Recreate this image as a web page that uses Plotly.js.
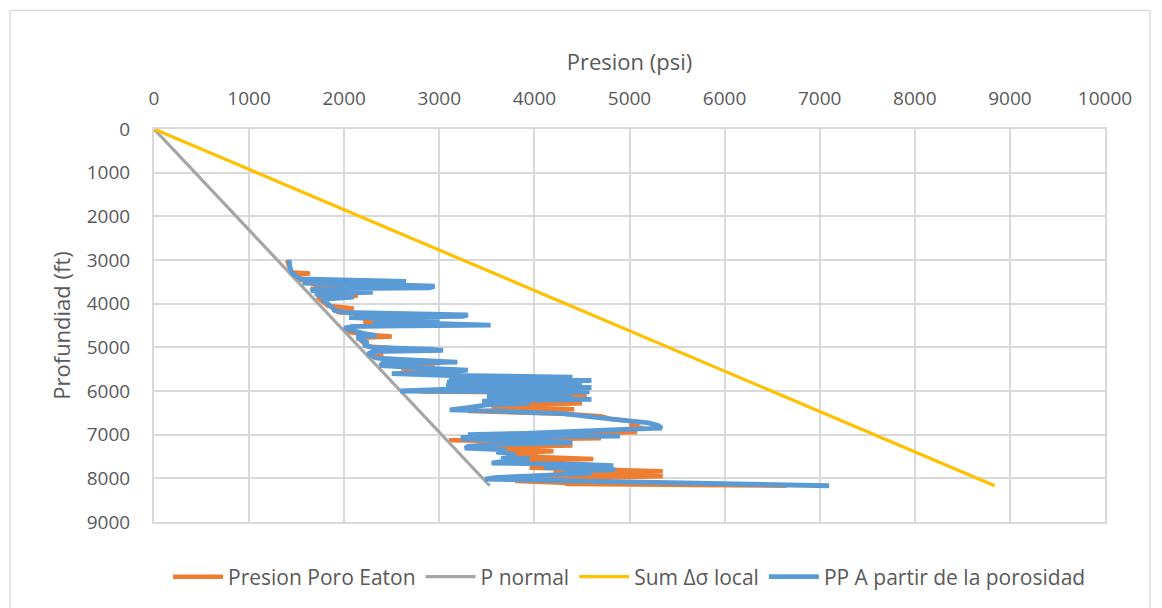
<!DOCTYPE html>
<html>
<head>
<meta charset="utf-8">
<script src="https://cdn.plot.ly/plotly-3.0.1.min.js"></script>
<style>
html,body{margin:0;padding:0;background:#fff;}
#chart{width:1162px;height:608px;}
</style>
</head>
<body>
<div id="chart"></div>
<script>
// ---- data: depth (ft) and pressure (psi) ----
const eatonDepth = [3000,3150,3280,3310,3340,3400,3450,3480,3500,3560,3620,3660,3720,3780,3820,3860,3920,3980,4050,4110,4140,4200,4250,4280,4320,4380,4420,4480,4520,4580,4650,4700,4750,4780,4850,4920,4980,5050,5080,5150,5190,5230,5300,5360,5400,5440,5480,5530,5570,5610,5660,5700,5750,5800,5850,5900,5950,6010,6040,6080,6120,6160,6200,6250,6280,6330,6380,6420,6460,6520,6580,6640,6700,6760,6800,6850,6900,6940,6980,7030,7080,7130,7170,7210,7250,7290,7340,7380,7430,7450,7500,7560,7600,7650,7700,7760,7800,7840,7880,7920,7950,8000,8060,8100,8130,8170];
const eatonPress = [1400,1420,1440,1640,1470,1500,1540,2100,1600,1700,2000,1650,1700,2100,2140,1720,1760,1790,1830,2100,1880,1950,2500,2800,2100,2700,2200,3200,2080,2000,2050,2200,2500,2200,2180,2220,2250,2700,2400,2280,2410,2300,2600,3000,2450,2950,2600,2800,3060,2900,3200,4300,3300,4500,3200,4400,3200,2800,4300,3600,4550,3800,4300,3600,4500,3800,3550,4420,3300,4300,4700,4800,5050,5100,5000,5150,4900,5080,4400,3800,4700,3100,4300,3800,4400,3400,3900,4200,3700,4030,3900,4620,3850,4300,4600,3950,4700,5350,4200,5200,5350,4400,3800,4300,4350,6650];

const normalDepth = [0, 8170];
const normalPress = [0, 3530];

const sumDepth = [0, 8170];
const sumPress = [0, 8840];

const ppDepth = [3000,3080,3160,3250,3320,3380,3430,3470,3490,3505,3530,3560,3600,3640,3660,3700,3740,3770,3800,3850,3900,3950,4000,4050,4100,4150,4200,4230,4260,4290,4320,4350,4380,4410,4450,4490,4520,4560,4620,4680,4730,4760,4800,4850,4900,4950,5000,5040,5070,5100,5150,5200,5250,5300,5340,5370,5420,5470,5520,5560,5600,5640,5680,5720,5760,5800,5840,5880,5920,5960,6000,6020,6060,6100,6140,6190,6230,6280,6320,6380,6430,6460,6520,6600,6650,6730,6790,6850,6890,6930,6970,7000,7030,7060,7100,7140,7180,7220,7270,7310,7350,7400,7450,7500,7550,7600,7650,7680,7710,7750,7800,7840,7880,7930,7980,8020,8060,8120,8170];
const ppPress = [1420,1420,1430,1440,1460,1500,1540,2200,2650,1700,1560,2400,2950,2900,1700,1650,2300,1700,1720,2100,1760,1800,1820,1850,1880,1900,2000,3000,3300,3250,2050,3000,2900,2300,3200,3540,2100,2000,2100,2200,2340,2150,2150,2200,2250,2200,2300,2900,3040,2300,2250,2300,2350,2800,3190,2400,2380,2800,3300,3100,2500,3060,4400,3100,4600,3080,4500,3070,4600,3100,2590,4580,3500,4400,3500,4600,3450,3950,3500,3300,3110,3600,4300,4620,4900,5200,5300,5340,4800,4400,3900,3300,4900,3250,3250,4000,4400,3600,3300,3270,3700,3600,3800,3650,3950,3700,3550,4500,4830,4100,4850,4300,4600,4100,3600,3480,4500,6000,7100];

const xTicks = [0,1000,2000,3000,4000,5000,6000,7000,8000,9000,10000];
const yTicks = [0,1000,2000,3000,4000,5000,6000,7000,8000,9000];

const FONT = '"Open Sans", "Noto Sans", sans-serif';
const TXT = '#595959';
const GRID = '#d9d9d9';

const traces = [
  {x: eatonPress, y: eatonDepth, name: 'Presion Poro Eaton', mode: 'lines',
   line: {color: '#ED7D31', width: 4.5}},
  {x: normalPress, y: normalDepth, name: 'P normal', mode: 'lines',
   line: {color: '#A5A5A5', width: 3.2}},
  {x: sumPress, y: sumDepth, name: 'Sum Δσ local', mode: 'lines',
   line: {color: '#FFC000', width: 3.2}},
  {x: ppPress, y: ppDepth, name: 'PP A partir de la porosidad', mode: 'lines',
   line: {color: '#5B9BD5', width: 4.8}}
];

const layout = {
  width: 1162, height: 608,
  margin: {l: 154, r: 57, t: 129, b: 85, pad: 0},
  paper_bgcolor: '#ffffff', plot_bgcolor: '#ffffff',
  font: {family: FONT, color: TXT, size: 19},
  showlegend: true,
  xaxis: {
    side: 'top', range: [0, 10000], tickvals: xTicks,
    ticktext: xTicks.map(String),
    showgrid: true, gridcolor: GRID, gridwidth: 2,
    showline: true, mirror: true, linecolor: GRID, linewidth: 2,
    zeroline: false, ticks: '', ticklabelstandoff: 14,
    tickfont: {family: FONT, size: 19, color: TXT},
    title: {text: 'Presion (psi)', font: {family: FONT, size: 22, color: TXT}, standoff: 9}
  },
  yaxis: {
    range: [9000, 0], tickvals: yTicks, ticktext: yTicks.map(String),
    showgrid: true, gridcolor: GRID, gridwidth: 2,
    showline: true, mirror: true, linecolor: GRID, linewidth: 2,
    zeroline: false, ticks: '', ticklabelstandoff: 18,
    tickfont: {family: FONT, size: 19, color: TXT},
    title: {text: 'Profundiad (ft)', font: {family: FONT, size: 22, color: TXT}, standoff: 10}
  },
  legend: {
    orientation: 'h', x: 0.5, xanchor: 'center', y: -0.137, yanchor: 'middle',
    font: {family: FONT, size: 21, color: TXT}, bgcolor: 'rgba(0,0,0,0)',
    itemwidth: 50
  },
  shapes: [{
    type: 'rect', xref: 'paper', yref: 'paper',
    x0: -0.1514, x1: 1.0473, y0: -0.35, y1: 1.302,
    line: {color: GRID, width: 1.3}, fillcolor: 'rgba(0,0,0,0)', layer: 'below'
  }]
};

Plotly.newPlot('chart', traces, layout, {displayModeBar: false, staticPlot: true});
</script>
</body>
</html>
